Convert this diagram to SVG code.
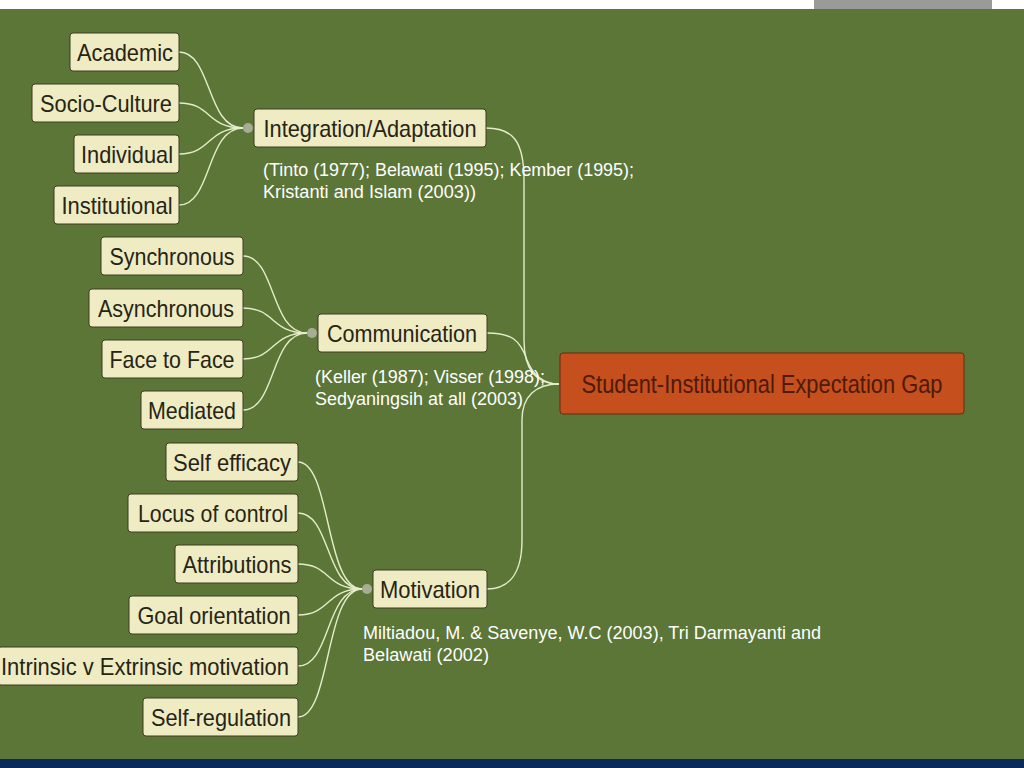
<svg xmlns="http://www.w3.org/2000/svg" width="1024" height="768" viewBox="0 0 1024 768">
<style>
.nb{fill:#efebc3;stroke:#3d3d22;stroke-width:1}
.nt{font-family:"Liberation Sans",Arial,sans-serif;font-size:24px;fill:#26251466;fill:#262514;text-anchor:middle}
.cite{font-family:"Liberation Sans",Arial,sans-serif;font-size:17.5px;fill:#ffffff}
.cn{fill:none;stroke:#e4ecca;stroke-width:1.4}
.dot{fill:#a7ad95}
</style>
<rect x="0" y="0" width="1024" height="768" fill="#ffffff"/>
<rect x="814" y="0" width="178" height="9" fill="#9a9a9a"/>
<rect x="0" y="9" width="1024" height="750" fill="#5b7636"/>
<rect x="0" y="759" width="1024" height="9" fill="#0b2a5c"/>

<g id="connectors">
<path class="cn" d="M179,52 C212,52 206,128 243,128"/>
<path class="cn" d="M179,103 C212,103 206,128 243,128"/>
<path class="cn" d="M179,154 C212,154 206,128 243,128"/>
<path class="cn" d="M179,205 C212,205 206,128 243,128"/>
<path class="cn" d="M243,256 C276,256 270,333 307,333"/>
<path class="cn" d="M243,308 C276,308 270,333 307,333"/>
<path class="cn" d="M243,359 C276,359 270,333 307,333"/>
<path class="cn" d="M243,410 C276,410 270,333 307,333"/>
<path class="cn" d="M298,462 C331,462 325,589 362,589"/>
<path class="cn" d="M298,513 C331,513 325,589 362,589"/>
<path class="cn" d="M298,564 C331,564 325,589 362,589"/>
<path class="cn" d="M298,615 C331,615 325,589 362,589"/>
<path class="cn" d="M298,666 C331,666 325,589 362,589"/>
<path class="cn" d="M298,717 C331,717 325,589 362,589"/>
<path class="cn" d="M486,128 C512,128 524,140 524,180 L524,340 C524,370 536,384 559,384"/>
<path class="cn" d="M487,333 C512,333 520,340 527,360 C534,378 545,384 559,384"/>
<path class="cn" d="M487,589 C510,589 522,572 522,540 L522,420 C522,396 536,384 559,384"/>
</g>

<g id="integration">
<rect class="nb" x="254" y="109" width="232" height="38" rx="3"/>
<circle class="dot" cx="248" cy="128" r="5"/>
<text class="nt" x="370" y="137" textLength="213" lengthAdjust="spacingAndGlyphs">Integration/Adaptation</text>
</g>
<g id="integration-cite">
<text class="cite" x="263" y="176" textLength="371" lengthAdjust="spacingAndGlyphs">(Tinto (1977); Belawati (1995); Kember (1995);</text>
<text class="cite" x="263" y="198" textLength="213" lengthAdjust="spacingAndGlyphs">Kristanti and Islam (2003))</text>
</g>
<g id="academic"><rect class="nb" x="70" y="33" width="109" height="38" rx="3"/><text class="nt" x="125" y="61" textLength="96" lengthAdjust="spacingAndGlyphs">Academic</text></g>
<g id="socio-culture"><rect class="nb" x="32" y="84" width="147" height="38" rx="3"/><text class="nt" x="106" y="112" textLength="132" lengthAdjust="spacingAndGlyphs">Socio-Culture</text></g>
<g id="individual"><rect class="nb" x="74" y="135" width="105" height="38" rx="3"/><text class="nt" x="127" y="163" textLength="92" lengthAdjust="spacingAndGlyphs">Individual</text></g>
<g id="institutional"><rect class="nb" x="54" y="186" width="125" height="38" rx="3"/><text class="nt" x="117" y="214" textLength="111" lengthAdjust="spacingAndGlyphs">Institutional</text></g>

<g id="communication">
<rect class="nb" x="318" y="314" width="169" height="38" rx="3"/>
<circle class="dot" cx="312" cy="333" r="5"/>
<text class="nt" x="402" y="342" textLength="150" lengthAdjust="spacingAndGlyphs">Communication</text>
</g>
<g id="communication-cite">
<text class="cite" x="315" y="383" textLength="230" lengthAdjust="spacingAndGlyphs">(Keller (1987); Visser (1998);</text>
<text class="cite" x="315" y="405" textLength="208" lengthAdjust="spacingAndGlyphs">Sedyaningsih at all (2003)</text>
</g>
<g id="synchronous"><rect class="nb" x="101" y="237" width="142" height="38" rx="3"/><text class="nt" x="172" y="265" textLength="125" lengthAdjust="spacingAndGlyphs">Synchronous</text></g>
<g id="asynchronous"><rect class="nb" x="89" y="289" width="154" height="38" rx="3"/><text class="nt" x="166" y="317" textLength="136" lengthAdjust="spacingAndGlyphs">Asynchronous</text></g>
<g id="face-to-face"><rect class="nb" x="102" y="340" width="141" height="38" rx="3"/><text class="nt" x="172" y="368" textLength="125" lengthAdjust="spacingAndGlyphs">Face to Face</text></g>
<g id="mediated"><rect class="nb" x="141" y="391" width="102" height="38" rx="3"/><text class="nt" x="192" y="419" textLength="88" lengthAdjust="spacingAndGlyphs">Mediated</text></g>

<g id="motivation">
<rect class="nb" x="373" y="570" width="114" height="38" rx="3"/>
<circle class="dot" cx="367" cy="589" r="5"/>
<text class="nt" x="430" y="598" textLength="100" lengthAdjust="spacingAndGlyphs">Motivation</text>
</g>
<g id="motivation-cite">
<text class="cite" x="363" y="639" textLength="458" lengthAdjust="spacingAndGlyphs">Miltiadou, M. &amp; Savenye, W.C (2003), Tri Darmayanti and</text>
<text class="cite" x="363" y="661" textLength="126" lengthAdjust="spacingAndGlyphs">Belawati (2002)</text>
</g>
<g id="self-efficacy"><rect class="nb" x="166" y="443" width="132" height="38" rx="3"/><text class="nt" x="232" y="471" textLength="118" lengthAdjust="spacingAndGlyphs">Self efficacy</text></g>
<g id="locus-of-control"><rect class="nb" x="128" y="494" width="170" height="38" rx="3"/><text class="nt" x="213" y="522" textLength="150" lengthAdjust="spacingAndGlyphs">Locus of control</text></g>
<g id="attributions"><rect class="nb" x="175" y="545" width="123" height="38" rx="3"/><text class="nt" x="237" y="573" textLength="109" lengthAdjust="spacingAndGlyphs">Attributions</text></g>
<g id="goal-orientation"><rect class="nb" x="129" y="596" width="169" height="38" rx="3"/><text class="nt" x="214" y="624" textLength="153" lengthAdjust="spacingAndGlyphs">Goal orientation</text></g>
<g id="intrinsic-extrinsic"><rect class="nb" x="-2" y="647" width="300" height="38" rx="3"/><text class="nt" x="145" y="675" textLength="288" lengthAdjust="spacingAndGlyphs">Intrinsic v Extrinsic motivation</text></g>
<g id="self-regulation"><rect class="nb" x="143" y="698" width="155" height="38" rx="3"/><text class="nt" x="221" y="726" textLength="140" lengthAdjust="spacingAndGlyphs">Self-regulation</text></g>

<g id="central">
<rect x="560" y="353" width="404" height="61" rx="3" fill="#c54f1d" stroke="#6a2a10" stroke-width="1"/>
<text x="762" y="393" font-family="Liberation Sans, Arial, sans-serif" font-size="26" fill="#4f1a08" text-anchor="middle" textLength="361" lengthAdjust="spacingAndGlyphs">Student-Institutional Expectation Gap</text>
</g>
</svg>
